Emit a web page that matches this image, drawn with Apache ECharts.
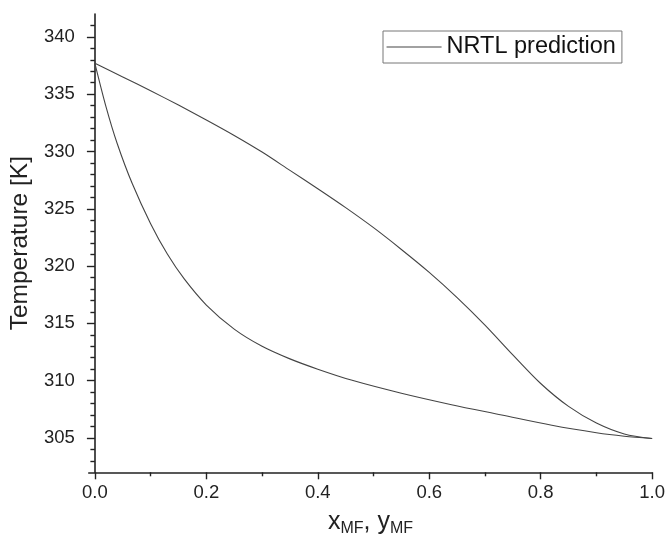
<!DOCTYPE html>
<html>
<head>
<meta charset="utf-8">
<script src="https://cdn.jsdelivr.net/npm/echarts@6/dist/echarts.min.js"></script>
<style>
  html, body { margin: 0; padding: 0; background: #fff; }
  #chart { width: 668px; height: 547px; }
</style>
</head>
<body>
<div id="chart"></div>
<script>
// Liquid (bubble) curve: T vs. methyl formate mole fraction x_MF
const liquidX = [0, 0.02, 0.04, 0.067, 0.1, 0.13, 0.16, 0.2, 0.25, 0.3, 0.35, 0.4, 0.46, 0.55, 0.64, 0.73, 0.82, 0.9, 0.95, 1.0];
const liquidT = [337.7, 333.9, 330.7, 327.2, 323.7, 321.05, 318.9, 316.6, 314.5, 313.0, 311.9, 311.0, 310.05, 308.9, 307.9, 307.0, 306.1, 305.45, 305.15, 304.95];

// Vapour (dew) curve: T vs. y_MF
const vapourX = [0, 0.05, 0.1, 0.15, 0.2, 0.25, 0.3, 0.35, 0.4, 0.45, 0.5, 0.55, 0.6, 0.65, 0.7, 0.75, 0.8, 0.85, 0.9, 0.95, 1.0];
const vapourT = [337.7, 336.5, 335.3, 334.05, 332.75, 331.4, 329.95, 328.35, 326.75, 325.1, 323.35, 321.45, 319.45, 317.25, 314.85, 312.25, 309.75, 307.75, 306.3, 305.35, 304.95];

// Tick positions
const xMajorTicks = [0, 0.2, 0.4, 0.6, 0.8, 1.0];
const xMinorTicks = [0.1, 0.3, 0.5, 0.7, 0.9];
const yMajorTicks = [305, 310, 315, 320, 325, 330, 335, 340];
const yMinorTicks = [303, 304, 306, 307, 308, 309, 311, 312, 313, 314, 316, 317, 318, 319,
                     321, 322, 323, 324, 326, 327, 328, 329, 331, 332, 333, 334, 336, 337, 338, 339, 341];

const xRange = [-0.011, 1.0];
const yRange = [302, 342];

const seriesName = 'NRTL prediction';
const FONT = '"Liberation Sans", Arial, sans-serif';
const INK = '#222';

function pairs(xs, ys) { return xs.map((x, i) => [x, ys[i]]); }

const chart = echarts.init(document.getElementById('chart'), null, { renderer: 'canvas' });

const lineStyle = { color: '#444', width: 1.1 };

chart.setOption({
  backgroundColor: '#fff',
  animation: false,
  textStyle: { fontFamily: FONT, color: INK },
  grid: { left: 86, right: 14.7, top: 14, bottom: 74.7, containLabel: false },
  legend: {
    show: true,
    data: [seriesName],
    left: 383,
    top: 31,
    orient: 'horizontal',
    padding: [4, 6, 4, 3],
    itemWidth: 55,
    itemHeight: 14,
    borderColor: '#777',
    borderWidth: 1,
    textStyle: { fontSize: 23.5, color: '#111', fontFamily: FONT },
    itemStyle: { opacity: 0 },
    lineStyle: { color: '#444', width: 1.1 }
  },
  xAxis: [
    {
      type: 'value',
      min: xRange[0],
      max: xRange[1],
      position: 'bottom',
      name: '{v|x}{s|MF}{v|, y}{s|MF}',
      nameLocation: 'middle',
      nameGap: 35,
      nameTextStyle: {
        rich: {
          v: { fontSize: 25, color: INK, fontFamily: FONT },
          s: { fontSize: 16, color: INK, fontFamily: FONT, padding: [13, 0, 0, 0] }
        }
      },
      axisLine: { show: true, lineStyle: { color: INK, width: 1.6 } },
      axisTick: { show: true, inside: false, length: 7, customValues: xMajorTicks, lineStyle: { color: INK, width: 1.4 } },
      axisLabel: { show: true, customValues: xMajorTicks, margin: 11, fontSize: 18.5, color: INK, fontFamily: FONT,
                   formatter: v => v.toFixed(1) },
      splitLine: { show: false }
    },
    {
      type: 'value',
      min: xRange[0],
      max: xRange[1],
      position: 'bottom',
      axisLine: { show: false },
      axisTick: { show: true, inside: false, length: 4, customValues: xMinorTicks, lineStyle: { color: INK, width: 1.4 } },
      axisLabel: { show: false },
      splitLine: { show: false }
    }
  ],
  yAxis: [
    {
      type: 'value',
      min: yRange[0],
      max: yRange[1],
      position: 'left',
      name: 'Temperature [K]',
      nameLocation: 'middle',
      nameGap: 52,
      nameTextStyle: { fontSize: 24.5, color: INK, fontFamily: FONT },
      axisLine: { show: true, lineStyle: { color: INK, width: 1.6 } },
      axisTick: { show: true, inside: false, length: 8, customValues: yMajorTicks, lineStyle: { color: INK, width: 1.4 } },
      axisLabel: { show: true, customValues: yMajorTicks, margin: 14, fontSize: 18.5, color: INK, fontFamily: FONT },
      splitLine: { show: false }
    },
    {
      type: 'value',
      min: yRange[0],
      max: yRange[1],
      position: 'left',
      axisLine: { show: false },
      axisTick: { show: true, inside: false, length: 4.5, customValues: yMinorTicks, lineStyle: { color: INK, width: 1.4 } },
      axisLabel: { show: false },
      splitLine: { show: false }
    }
  ],
  series: [
    {
      name: seriesName,
      type: 'line',
      xAxisIndex: 0,
      yAxisIndex: 0,
      data: pairs(liquidX, liquidT),
      symbol: 'none',
      smooth: 0.3,
      lineStyle: lineStyle,
      itemStyle: { color: '#444' }
    },
    {
      name: seriesName,
      type: 'line',
      xAxisIndex: 0,
      yAxisIndex: 0,
      data: pairs(vapourX, vapourT),
      symbol: 'none',
      smooth: 0.3,
      lineStyle: lineStyle,
      itemStyle: { color: '#444' }
    }
  ]
});
</script>
</body>
</html>
